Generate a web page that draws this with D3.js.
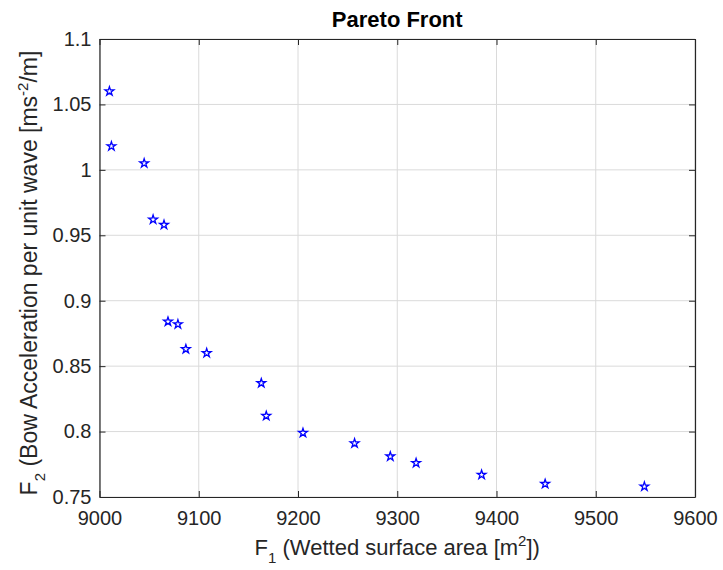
<!DOCTYPE html>
<html>
<head>
<meta charset="utf-8">
<script src="https://cdnjs.cloudflare.com/ajax/libs/d3/7.8.5/d3.min.js"></script>
<style>
  body { margin: 0; background: #fff; }
  text { font-family: "Liberation Sans", Arial, sans-serif; fill: #262626; }
</style>
</head>
<body>
<div id="chart"></div>
<script>
// pareto front points
var f1 = [9010, 9012, 9045, 9054, 9065, 9069, 9079, 9087, 9108, 9163, 9168, 9205, 9257, 9293, 9319, 9385, 9449, 9549];
var f2 = [1.060, 1.018, 1.005, 0.962, 0.958, 0.884, 0.882, 0.863, 0.860, 0.837, 0.812, 0.799, 0.791, 0.781, 0.776, 0.767, 0.760, 0.758];
var xTicks = [9000, 9100, 9200, 9300, 9400, 9500, 9600];
var yTicks = [0.75, 0.8, 0.85, 0.9, 0.95, 1, 1.05, 1.1];

var width = 723, height = 570;
var margin = {top: 39, right: 28, bottom: 73, left: 99.5};

var svg = d3.select("#chart").append("svg").attr("width", width).attr("height", height);

var x = d3.scaleLinear().domain([9000, 9600]).range([margin.left, width - margin.right]);
var y = d3.scaleLinear().domain([0.75, 1.1]).range([height - margin.bottom, margin.top]);

var g = svg.append("g");

// grid
g.selectAll(".gx").data(xTicks).enter().append("line")
    .attr("x1", function(d) { return x(d); }).attr("x2", function(d) { return x(d); })
    .attr("y1", y(0.75)).attr("y2", y(1.1))
    .attr("stroke", "#dadada").attr("stroke-width", 1);
g.selectAll(".gy").data(yTicks).enter().append("line")
    .attr("y1", function(d) { return y(d); }).attr("y2", function(d) { return y(d); })
    .attr("x1", x(9000)).attr("x2", x(9600))
    .attr("stroke", "#dadada").attr("stroke-width", 1);

// axes (MATLAB style, ticks inside, box on)
var xAxis = svg.append("g").attr("transform", "translate(0," + y(0.75) + ")")
    .call(d3.axisBottom(x).tickValues(xTicks).tickSizeInner(-6).tickSizeOuter(0).tickPadding(14).tickFormat(d3.format("d")));
var xTop = svg.append("g").attr("transform", "translate(0," + y(1.1) + ")")
    .call(d3.axisTop(x).tickValues(xTicks).tickSizeInner(-6).tickSizeOuter(0).tickFormat(""));
var yAxis = svg.append("g").attr("transform", "translate(" + x(9000) + ",0)")
    .call(d3.axisLeft(y).tickValues(yTicks).tickSizeInner(-6).tickSizeOuter(0).tickPadding(8).tickFormat(function(d) { return d3.format("")(+d.toFixed(2)); }));
var yRight = svg.append("g").attr("transform", "translate(" + x(9600) + ",0)")
    .call(d3.axisRight(y).tickValues(yTicks).tickSizeInner(-6).tickSizeOuter(0).tickFormat(""));

[xAxis, xTop, yAxis, yRight].forEach(function(a) {
  a.select(".domain").attr("stroke", "#262626").attr("stroke-width", 1.2);
  a.selectAll(".tick line").attr("stroke", "#262626");
  a.selectAll(".tick text").attr("font-size", 20).attr("fill", "#262626")
      .attr("font-family", "Liberation Sans, Arial, sans-serif");
});

// points
var star = d3.symbol().type(d3.symbolStar).size(24);
svg.append("g").selectAll("path").data(f1).enter().append("path")
    .attr("d", star)
    .attr("transform", function(d, i) { return "translate(" + x(d) + "," + y(f2[i]) + ")"; })
    .attr("fill", "none").attr("stroke", "#0000ff").attr("stroke-width", 1.3);

// title
svg.append("text").attr("x", (x(9000) + x(9600)) / 2).attr("y", 27)
    .attr("text-anchor", "middle").attr("font-size", 22).attr("font-weight", "bold")
    .style("fill", "#000").text("Pareto Front");

// x label
var xl = svg.append("text").attr("x", (x(9000) + x(9600)) / 2).attr("y", 555)
    .attr("text-anchor", "middle").attr("font-size", 22);
xl.append("tspan").text("F");
xl.append("tspan").attr("dy", 8).attr("font-size", 15).text("1");
xl.append("tspan").attr("dy", -8).text(" (Wetted surface area [m");
xl.append("tspan").attr("dy", -9).attr("font-size", 15).text("2");
xl.append("tspan").attr("dy", 9).text("])");

// y label
var yl = svg.append("text")
    .attr("transform", "translate(37," + 273 + ") rotate(-90)")
    .attr("text-anchor", "middle").attr("font-size", 23);
yl.append("tspan").text("F");
yl.append("tspan").attr("dy", 8).attr("font-size", 15).text("2");
yl.append("tspan").attr("dy", -8).text(" (Bow Acceleration per unit wave [ms");
yl.append("tspan").attr("dy", -9).attr("font-size", 15).text("-2");
yl.append("tspan").attr("dy", 9).text("/m]");
</script>
</body>
</html>
